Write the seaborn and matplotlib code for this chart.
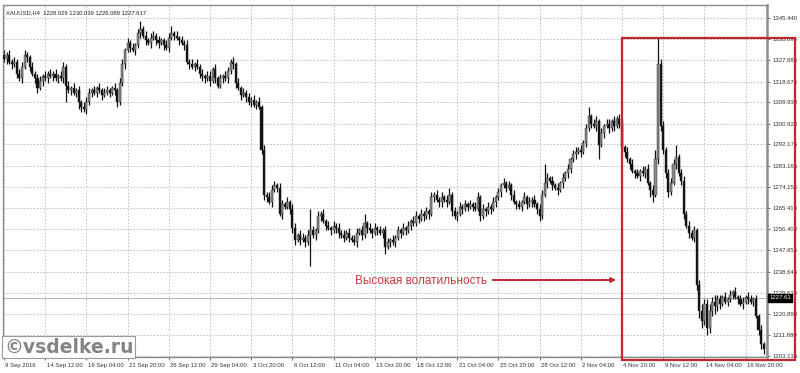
import numpy as np
import pandas as pd
import matplotlib
matplotlib.use("Agg")
import matplotlib.pyplot as plt
import matplotlib.transforms as mtransforms
from matplotlib.patches import Rectangle
import seaborn as sns

# ---------------- data ----------------
symbol = "XAUUSD,H4"
header_ohlc = ["1228.029", "1230.039", "1226.089", "1227.617"]
last_price = 1227.617
last_price_label = "1227.61"
first_open = 1330

close = [
    1328, 1330, 1327, 1326, 1327, 1322, 1320, 1325, 1330, 1329,
    1325, 1322, 1320, 1316, 1319, 1321, 1320, 1322, 1321, 1322,
    1320, 1321, 1320, 1325, 1317, 1315, 1316, 1314, 1315, 1310,
    1308, 1307, 1310, 1314, 1315, 1314, 1316, 1315, 1313, 1314,
    1315, 1314, 1316, 1315, 1310, 1318, 1326, 1332, 1335, 1333,
    1332, 1334, 1339, 1341, 1338, 1336, 1335, 1337, 1338, 1336,
    1335, 1336, 1334, 1333, 1337, 1339, 1338, 1337, 1336, 1335,
    1334, 1327, 1326, 1325, 1326, 1325, 1322, 1321, 1320, 1321,
    1319, 1324, 1320, 1317, 1320, 1321, 1320, 1323, 1327, 1326,
    1318, 1316, 1313, 1314, 1312, 1310, 1311, 1309, 1310, 1308,
    1290, 1271, 1270, 1268, 1273, 1275, 1274, 1263, 1267, 1266,
    1268, 1265, 1257, 1252, 1254, 1252, 1253, 1251, 1254, 1256,
    1254, 1256, 1262, 1263, 1260, 1258, 1257, 1256, 1258, 1257,
    1255, 1254, 1253, 1255, 1253, 1252, 1251, 1255, 1256, 1254,
    1259, 1257, 1256, 1255, 1257, 1256, 1255, 1256, 1249, 1251,
    1252, 1251, 1253, 1256, 1255, 1257, 1256, 1258, 1260, 1259,
    1262, 1261, 1263, 1262, 1264, 1263, 1270, 1271, 1269, 1268,
    1270, 1269, 1268, 1271, 1264, 1262, 1263, 1266, 1265, 1267,
    1266, 1267, 1266, 1265, 1270, 1262, 1265, 1264, 1266, 1265,
    1268, 1270, 1272, 1275, 1276, 1274, 1275, 1271, 1268, 1267,
    1266, 1268, 1270, 1267, 1268, 1269, 1267, 1265, 1262, 1271,
    1276, 1278, 1277, 1275, 1274, 1273, 1276, 1278, 1280, 1282,
    1286, 1288, 1289, 1290, 1289, 1293, 1299, 1304, 1301, 1300,
    1302, 1292, 1297, 1300, 1301, 1299, 1302, 1300, 1303, 1301,
    1291, 1289, 1286, 1284, 1281, 1280, 1279, 1281, 1280, 1282,
    1276, 1273, 1271, 1286, 1326, 1300, 1290, 1280, 1272, 1276,
    1284, 1287, 1280, 1277, 1263, 1258, 1255, 1253, 1256, 1233,
    1222, 1218, 1225, 1215, 1222, 1226, 1224, 1227, 1225, 1228,
    1226, 1227, 1229, 1230, 1228, 1227, 1225, 1226, 1228, 1227,
    1226, 1227, 1220, 1214, 1208, 1206,
]

up_wick = [
    2, 1, 2, 1, 2, 1, 2, 2, 2, 1,
    1, 2, 1, 2, 2, 1, 2, 1, 2, 1,
    2, 1, 2, 2, 1, 2, 1, 2, 1, 2,
    1, 2, 2, 2, 1, 2, 1, 2, 1, 2,
    2, 1, 1, 2, 1, 2, 2, 1, 2, 1,
    2, 1, 2, 3, 1, 2, 1, 2, 2, 1,
    2, 1, 1, 2, 2, 3, 1, 2, 1, 2,
    1, 2, 1, 2, 1, 2, 1, 2, 1, 2,
    2, 1, 2, 1, 2, 1, 2, 2, 1, 2,
    1, 2, 1, 2, 1, 2, 1, 2, 1, 2,
    1, 2, 1, 2, 2, 2, 1, 2, 2, 1,
    2, 1, 2, 2, 1, 2, 2, 1, 2, 9,
    2, 1, 2, 1, 2, 1, 2, 1, 2, 1,
    2, 1, 2, 1, 2, 1, 2, 2, 1, 2,
    4, 1, 2, 1, 2, 1, 2, 1, 2, 2,
    1, 2, 1, 2, 1, 2, 1, 2, 1, 2,
    2, 1, 2, 1, 2, 1, 2, 1, 2, 1,
    2, 1, 2, 3, 1, 2, 1, 2, 1, 2,
    1, 2, 1, 2, 2, 1, 2, 1, 2, 1,
    2, 1, 2, 1, 2, 1, 2, 1, 2, 1,
    2, 1, 2, 1, 2, 1, 2, 1, 2, 2,
    8, 2, 1, 2, 1, 2, 1, 2, 1, 2,
    1, 2, 2, 1, 2, 1, 2, 4, 1, 2,
    2, 1, 2, 1, 2, 2, 1, 2, 1, 2,
    2, 1, 2, 1, 2, 1, 2, 1, 2, 1,
    2, 1, 2, 4, 11, 2, 2, 1, 2, 2,
    2, 5, 1, 2, 2, 1, 2, 1, 2, 1,
    2, 3, 2, 2, 3, 2, 3, 2, 2, 1,
    2, 1, 2, 1, 2, 1, 2, 2, 1, 2,
    2, 1, 2, 1, 2, 1,
]

down_wick = [
    1, 2, 1, 2, 1, 2, 1, 2, 1, 2,
    2, 1, 2, 2, 1, 2, 1, 2, 1, 2,
    1, 2, 1, 2, 7, 1, 2, 1, 2, 3,
    2, 1, 2, 1, 2, 1, 2, 1, 2, 1,
    1, 2, 1, 2, 2, 1, 1, 2, 1, 2,
    1, 2, 1, 2, 1, 2, 1, 2, 1, 2,
    2, 1, 2, 1, 2, 1, 2, 1, 2, 1,
    2, 1, 2, 1, 2, 1, 2, 2, 2, 1,
    2, 1, 2, 1, 1, 2, 1, 2, 1, 2,
    2, 1, 2, 1, 2, 1, 2, 1, 2, 1,
    2, 2, 2, 1, 2, 1, 2, 1, 2, 1,
    1, 2, 2, 2, 1, 2, 1, 2, 1, 13,
    1, 2, 1, 2, 1, 2, 1, 2, 1, 2,
    2, 1, 2, 1, 2, 1, 1, 2, 1, 2,
    1, 2, 1, 2, 1, 2, 1, 2, 3, 1,
    2, 1, 2, 1, 2, 1, 2, 1, 2, 1,
    1, 2, 1, 2, 1, 2, 1, 2, 1, 2,
    2, 1, 2, 1, 2, 1, 2, 1, 2, 1,
    2, 1, 2, 1, 1, 2, 1, 2, 1, 2,
    1, 2, 1, 2, 1, 2, 1, 2, 1, 2,
    1, 2, 1, 2, 1, 2, 1, 2, 2, 1,
    1, 2, 1, 2, 1, 2, 1, 2, 1, 2,
    2, 1, 2, 1, 2, 1, 2, 1, 2, 1,
    2, 6, 1, 2, 1, 2, 1, 2, 1, 2,
    1, 2, 1, 2, 1, 2, 1, 2, 1, 2,
    1, 3, 3, 1, 2, 2, 2, 2, 2, 1,
    1, 2, 1, 2, 2, 1, 2, 1, 2, 2,
    3, 3, 2, 3, 2, 2, 3, 2, 2, 1,
    1, 2, 1, 2, 1, 2, 1, 2, 1, 2,
    1, 2, 1, 2, 2, 2,
]

date_labels = [
    "9 Sep 2016", "14 Sep 12:00", "19 Sep 04:00", "21 Sep 20:00",
    "26 Sep 12:00", "29 Sep 04:00", "3 Oct 20:00", "6 Oct 12:00",
    "11 Oct 04:00", "13 Oct 20:00", "18 Oct 12:00", "21 Oct 04:00",
    "25 Oct 20:00", "28 Oct 12:00", "2 Nov 04:00", "4 Nov 20:00",
    "9 Nov 12:00", "14 Nov 04:00", "16 Nov 20:00",
]
bars_per_label = 16

price_ticks = [1345.440, 1336.695, 1327.685, 1318.675, 1309.930, 1300.920,
               1292.175, 1283.165, 1274.155, 1265.410, 1256.400, 1247.655,
               1238.645, 1229.635, 1220.890, 1211.880, 1203.135]

annotation_text = "Высокая волатильность"
watermark_text = "©vsdelke.ru"

# ---------------- build table ----------------
df = pd.DataFrame({"close": close, "up": up_wick, "dn": down_wick})
df["open"] = [first_open] + close[:-1]
df["high"] = df[["open", "close"]].max(axis=1) + df["up"]
df["low"] = df[["open", "close"]].min(axis=1) - df["dn"]
df["bar"] = np.arange(len(df))
df["bull"] = df["close"] >= df["open"]

# ---------------- style ----------------
sns.set_theme(style="white")
plt.rcParams["font.family"] = ["Liberation Sans", "DejaVu Sans"]

W, H = 800, 373
fig = plt.figure(figsize=(W / 100, H / 100), dpi=100)
fig.patch.set_facecolor("white")
ax = fig.add_axes([3 / W, 16 / H, 764 / W, 352 / H])
ax.set_facecolor("white")

grid_kw = dict(color="#b8b8b8", lw=0.6, linestyle=(0, (2, 2)), zorder=0)
label_pos = [i * bars_per_label for i in range(len(date_labels))]
for xp in label_pos:
    ax.axvline(xp, **grid_kw)
for yp in price_ticks:
    ax.axhline(yp, **grid_kw)

# current price line
ax.axhline(last_price, color="#a8a8a8", lw=0.6, zorder=1)

# candles
ax.vlines(df["bar"], df["low"], df["high"], color="#111111", lw=0.9, zorder=2)
body_bottom = df[["open", "close"]].min(axis=1)
body_h = (df["close"] - df["open"]).abs().clip(lower=0.3)
colors = np.where(df["bull"], "#8a8a8a", "#111111")
ax.bar(df["bar"], body_h, bottom=body_bottom, width=0.8, color=colors,
       edgecolor="#222222", linewidth=0.3, zorder=3)

ax.set_xlim(-0.39, 296.3)
ax.set_ylim(1202.7, 1350.9)

# axes cosmetics
for side in ["left", "top", "bottom"]:
    ax.spines[side].set_color("#8c8c8c")
    ax.spines[side].set_linewidth(1.0)
ax.spines["right"].set_color("#8c8c8c")
ax.spines["right"].set_linewidth(1.8)

fs = 4.3
ax.yaxis.tick_right()
ax.set_yticks(price_ticks)
ax.set_yticklabels([f"{v:.3f}" for v in price_ticks])
ax.tick_params(axis="y", which="major", right=True, left=False, length=2.5,
               width=0.6, color="#555555", labelsize=fs, labelcolor="#333333", pad=1.2)

ax.set_xticks(label_pos)
ax.set_xticklabels(date_labels)
ax.tick_params(axis="x", which="major", bottom=True, length=2.5, width=0.6,
               color="#555555", labelsize=fs, labelcolor="#333333", pad=2)
offset = mtransforms.ScaledTranslation(1.0 / 72, 0, fig.dpi_scale_trans)
for lbl in ax.get_xticklabels():
    lbl.set_ha("left")
    lbl.set_transform(lbl.get_transform() + offset)

# header
ax.text(0.004, 0.985, symbol + "  " + " ".join(header_ohlc), transform=ax.transAxes,
        fontsize=4.2, color="#222222", ha="left", va="top")

# last price marker
trans = mtransforms.blended_transform_factory(ax.transAxes, ax.transData)
ax.text(1.003, last_price, last_price_label, transform=trans, fontsize=fs,
        color="white", ha="left", va="center",
        bbox=dict(boxstyle="square,pad=0.2", facecolor="black", edgecolor="black"))

# red highlight rectangle
red = "#c1272d"
fig.add_artist(Rectangle((622 / W, 1 - 360 / H), 173 / W, 322 / H,
                         transform=fig.transFigure, fill=False,
                         edgecolor=red, lw=1.6, zorder=10))

# annotation + arrow
fig.text(355 / W, 1 - 281 / H, annotation_text, fontsize=8.5, color="#c8393d",
         ha="left", va="center")
ax.annotate("", xy=(619 / W, 1 - 280 / H), xytext=(490 / W, 1 - 280 / H),
            xycoords="figure fraction", textcoords="figure fraction",
            arrowprops=dict(arrowstyle="-|>", color=red, lw=1.4, mutation_scale=7))

# watermark
fig.text(4 / W, 1 - 347 / H, watermark_text, fontsize=13.5, fontweight="bold",
         family=["DejaVu Sans"], color="#848484", ha="left", va="center", zorder=11,
         bbox=dict(boxstyle="square,pad=0.1", facecolor="white", edgecolor="#9a9a9a", lw=0.8))

fig.savefig("out.png", dpi=100, facecolor="white")
